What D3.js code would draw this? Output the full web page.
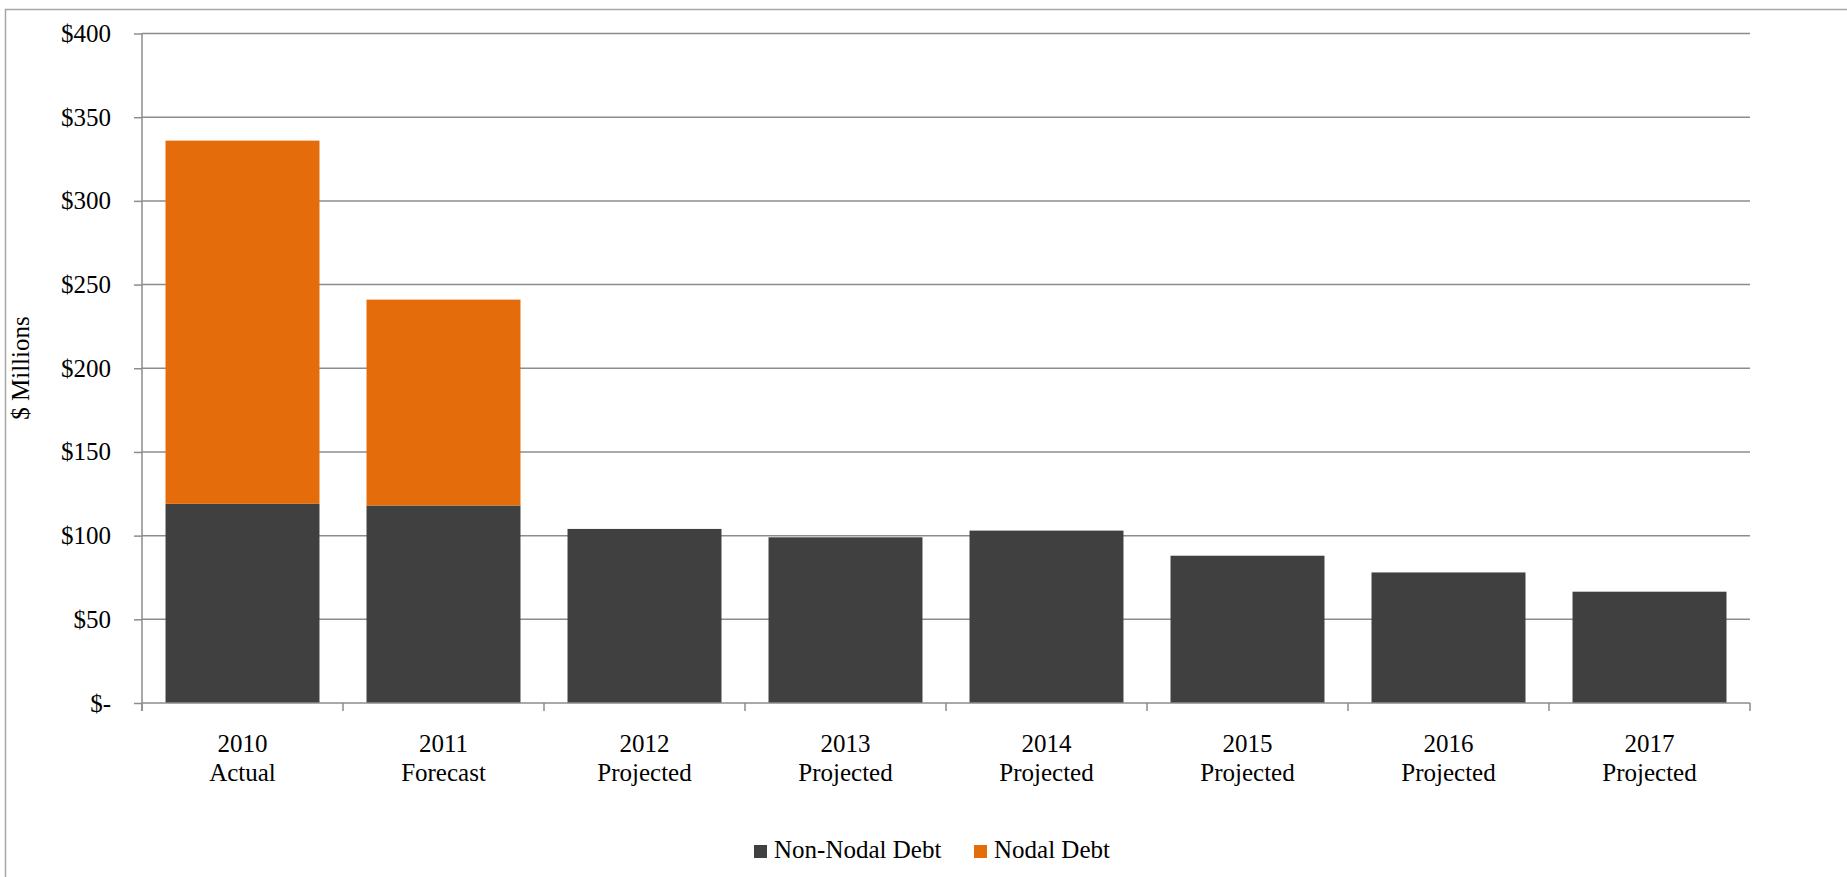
<!DOCTYPE html>
<html>
<head>
<meta charset="utf-8">
<script src="https://cdn.jsdelivr.net/npm/d3@7"></script>
<style>
  html, body { margin: 0; padding: 0; background: #fff; }
  svg { display: block; }
  text { font-family: "Liberation Serif", "Times New Roman", serif; fill: #000; }
</style>
</head>
<body>
<svg id="chart" width="1847" height="877"></svg>
<script>
// ---- data ----
const years = ["2010", "2011", "2012", "2013", "2014", "2015", "2016", "2017"];
const phases = ["Actual", "Forecast", "Projected", "Projected", "Projected", "Projected", "Projected", "Projected"];
const nonNodalDebt = [119, 118, 104, 99, 103, 88, 78, 66.5];
const nodalDebt = [217, 123, 0, 0, 0, 0, 0, 0];
const seriesNames = ["Non-Nodal Debt", "Nodal Debt"];
const seriesColors = ["#404040", "#E46C0A"];
const yTicks = [0, 50, 100, 150, 200, 250, 300, 350, 400];

// ---- layout ----
const W = 1847, H = 877;
const plotL = 142, plotR = 1750, plotT = 33.5, plotB = 703;
const fontSize = 25;

const svg = d3.select("#chart");

// outer frame
svg.append("path")
  .attr("d", `M5.5,${H} V9.5 H${W}`)
  .attr("fill", "none").attr("stroke", "#a6a6a6").attr("stroke-width", 1.5);

const x = d3.scaleBand().domain(years).range([plotL, plotR])
  .paddingInner(0.234).paddingOuter(0.117);
const y = d3.scaleLinear().domain([0, 400]).range([plotB, plotT]);

// gridlines
svg.append("g").selectAll("line").data(yTicks.filter(d => d > 0)).join("line")
  .attr("x1", plotL).attr("x2", plotR)
  .attr("y1", d => y(d)).attr("y2", d => y(d))
  .attr("stroke", "#8c8c8c").attr("stroke-width", 1.5);

// stacked bars
const table = years.map((yr, i) => ({ year: yr, nonNodal: nonNodalDebt[i], nodal: nodalDebt[i] }));
const stack = d3.stack().keys(["nonNodal", "nodal"])(table);
svg.append("g").selectAll("g").data(stack).join("g")
  .attr("fill", (d, i) => seriesColors[i])
  .selectAll("rect").data(d => d.filter(s => s[1] - s[0] > 0)).join("rect")
  .attr("x", d => x(d.data.year))
  .attr("width", x.bandwidth())
  .attr("y", d => y(d[1]))
  .attr("height", d => y(d[0]) - y(d[1]));

// y axis
const yAxis = d3.axisLeft(y).tickValues(yTicks).tickSize(8).tickPadding(23)
  .tickFormat(d => d === 0 ? "$-" : "$" + d);
const gy = svg.append("g").attr("transform", `translate(${plotL},0)`).call(yAxis);
gy.select(".domain").remove();
gy.selectAll(".tick line").attr("stroke", "#8c8c8c").attr("stroke-width", 1.5);
gy.selectAll(".tick text").attr("font-size", fontSize)
  .attr("font-family", '"Liberation Serif", "Times New Roman", serif').attr("fill", "#000");
svg.append("line").attr("x1", plotL).attr("x2", plotL).attr("y1", plotT).attr("y2", plotB + 8)
  .attr("stroke", "#8c8c8c").attr("stroke-width", 1.5);

// x axis line and boundary ticks
svg.append("line").attr("x1", plotL).attr("x2", plotR).attr("y1", plotB).attr("y2", plotB)
  .attr("stroke", "#8c8c8c").attr("stroke-width", 1.5);
const boundaries = d3.range(years.length + 1).map(i => plotL + i * x.step());
svg.append("g").selectAll("line").data(boundaries).join("line")
  .attr("x1", d => d).attr("x2", d => d).attr("y1", plotB).attr("y2", plotB + 8)
  .attr("stroke", "#8c8c8c").attr("stroke-width", 1.5);

// x labels
const xl = svg.append("g").selectAll("text").data(years).join("text")
  .attr("text-anchor", "middle").attr("font-size", fontSize)
  .attr("x", d => x(d) + x.bandwidth() / 2);
xl.append("tspan").attr("x", d => x(d) + x.bandwidth() / 2).attr("y", 752).text(d => d);
xl.append("tspan").attr("x", d => x(d) + x.bandwidth() / 2).attr("y", 781).text((d, i) => phases[i]);

// y title
svg.append("text").attr("transform", "translate(29,368) rotate(-90)")
  .attr("text-anchor", "middle").attr("font-size", fontSize).text("$ Millions");

// legend
const legendX = [754, 974];
const lg = svg.append("g").selectAll("g").data(seriesNames).join("g")
  .attr("transform", (d, i) => `translate(${legendX[i]},0)`);
lg.append("rect").attr("x", 0).attr("y", 845).attr("width", 13).attr("height", 13)
  .attr("fill", (d, i) => seriesColors[i]);
lg.append("text").attr("x", 20).attr("y", 858).attr("font-size", fontSize).text(d => d);
</script>
</body>
</html>
